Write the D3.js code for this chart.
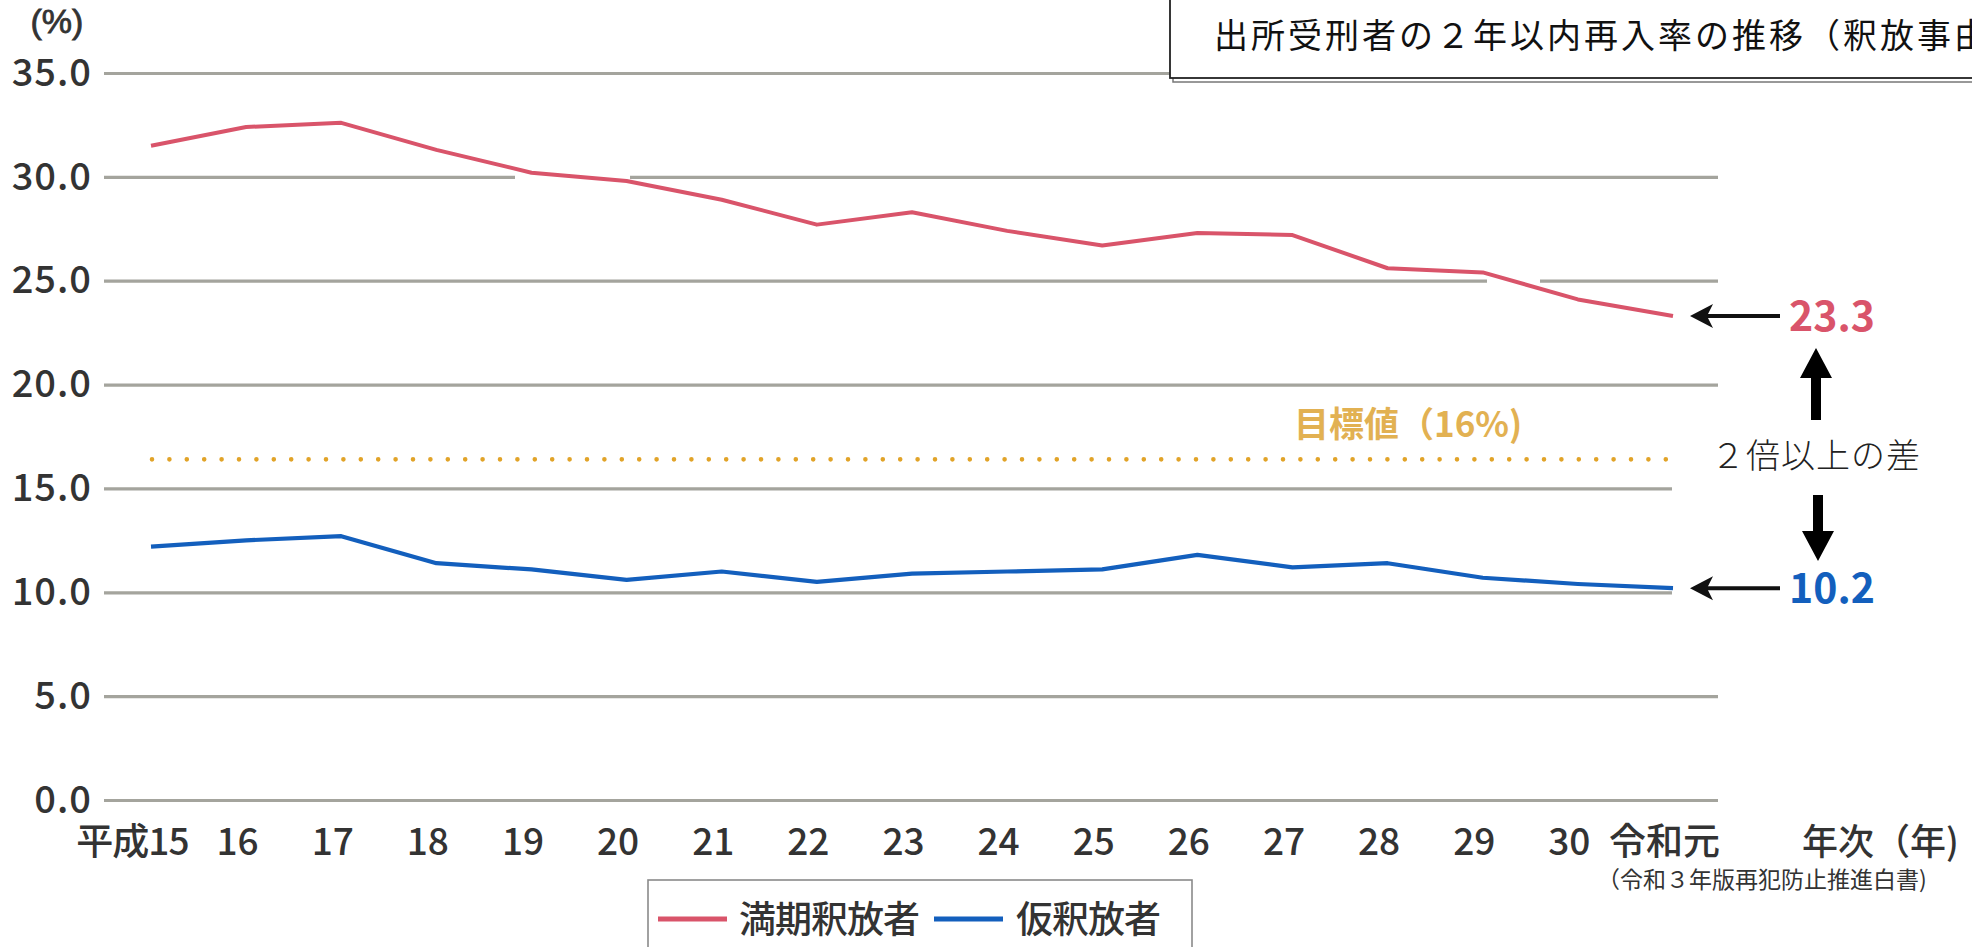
<!DOCTYPE html>
<html><head><meta charset="utf-8">
<script src="https://cdn.jsdelivr.net/npm/d3@7"></script>
<style>
html,body{margin:0;padding:0;background:#fff;}
svg{display:block;}
text{font-family:"Noto Sans CJK JP","Noto Sans",sans-serif;}
</style></head>
<body>
<svg id="chart" width="1972" height="947"></svg>
<script>
// ---- data ----
const categories = ["平成15","16","17","18","19","20","21","22","23","24","25","26","27","28","29","30","令和元"];
const fullTermRelease = [31.5,32.4,32.6,31.3,30.2,29.8,28.9,27.7,28.3,27.4,26.7,27.3,27.2,25.6,25.4,24.1,23.3];
const parole = [12.2,12.5,12.7,11.4,11.1,10.6,11.0,10.5,10.9,11.0,11.1,11.8,11.2,11.4,10.7,10.4,10.2];
const targetValue = 16.4;
const yTicks = [0,5,10,15,20,25,30,35];
const seriesNames = ["満期釈放者","仮釈放者"];
const titleText = "出所受刑者の２年以内再入率の推移（釈放事由別）";
const targetLabel = "目標値（16%)";
const gapLabel = "２倍以上の差";
const sourceText = "（令和３年版再犯防止推進白書)";

// ---- layout ----
const RED = "#d9546a", BLUE = "#135fbd", GOLD = "#e1a328", GOLDTXT = "#e2b152", GRID = "#a4a49d", INK = "#333";
const svg = d3.select("#chart");
const x = d3.scalePoint().domain(categories).range([151, 1673]);
const y = d3.scaleLinear().domain([0, 35]).range([800, 73]);
const gridLeft = 104, gridRight = 1718;

// y axis + gridlines
const yAxis = svg.append("g").attr("transform", `translate(${gridLeft},0)`)
  .call(d3.axisLeft(y).tickValues(yTicks).tickSize(-(gridRight - gridLeft)).tickPadding(12).tickFormat(d3.format(".1f")));
yAxis.select(".domain").remove();
yAxis.selectAll(".tick line").attr("stroke", GRID).attr("stroke-width", 3.2);
yAxis.selectAll(".tick text").attr("fill", INK).style("font-size", "38px").style("font-weight", "500")
  .style("letter-spacing", "1px").attr("dy", "0.32em");

// small white gaps present in the gridlines of the original
svg.append("rect").attr("x", 515).attr("y", y(30) - 5).attr("width", 115).attr("height", 10).attr("fill", "#fff");
svg.append("rect").attr("x", 1487).attr("y", y(25) - 5).attr("width", 53).attr("height", 10).attr("fill", "#fff");
svg.append("rect").attr("x", 1672).attr("y", y(15) - 6).attr("width", 300).attr("height", y(10) - y(15) + 12).attr("fill", "#fff");

// (%) label
svg.append("text").attr("x", 57).attr("y", 33).attr("text-anchor", "middle")
  .attr("fill", INK).attr("stroke", INK).attr("stroke-width", 0.8)
  .style("font-family", "'Liberation Sans', Arial, sans-serif")
  .style("font-size", "34px").text("(%)");

// x axis
const xAxis = svg.append("g").attr("transform", `translate(-9,800)`)
  .call(d3.axisBottom(x).tickSize(0).tickPadding(29));
xAxis.select(".domain").remove();
xAxis.selectAll(".tick text").attr("fill", INK).style("font-size", "37px").style("font-weight", "500");
xAxis.selectAll(".tick text").filter(d => d === categories[0]).attr("text-anchor", "end").attr("x", 46)
  .style("letter-spacing", "-1px");

svg.append("text").attr("x", 1802).attr("y", 855).attr("fill", INK).style("font-size", "36px")
  .style("font-weight", "500").text("年次（年)");

// target dotted line
svg.append("line").attr("x1", x(categories[0]) + 1).attr("x2", 1666)
  .attr("y1", y(targetValue)).attr("y2", y(targetValue))
  .attr("stroke", GOLD).attr("stroke-width", 4.6).attr("stroke-linecap", "round")
  .attr("stroke-dasharray", "0 17.4");
svg.append("text").attr("x", 1294).attr("y", 437).attr("fill", GOLDTXT)
  .style("font-size", "35px").style("font-weight", "bold").text(targetLabel);

// series lines
const line = d3.line().x((d, i) => x(categories[i])).y(d => y(d));
svg.append("path").datum(fullTermRelease).attr("d", line).attr("fill", "none")
  .attr("stroke", RED).attr("stroke-width", 4).attr("stroke-linejoin", "round");
svg.append("path").datum(parole).attr("d", line).attr("fill", "none")
  .attr("stroke", BLUE).attr("stroke-width", 4.2).attr("stroke-linejoin", "round");

// end-value annotations
function leftArrow(ty) {
  const tx = 1690;
  svg.append("line").attr("x1", tx + 14).attr("x2", 1780).attr("y1", ty).attr("y2", ty)
    .attr("stroke", "#111").attr("stroke-width", 4);
  svg.append("path").attr("d", `M${tx},${ty} L${tx + 23},${ty - 12} L${tx + 17},${ty} L${tx + 23},${ty + 12} Z`).attr("fill", "#111");
}
const lastRed = fullTermRelease[fullTermRelease.length - 1];
const lastBlue = parole[parole.length - 1];
leftArrow(y(lastRed));
leftArrow(y(lastBlue));
svg.append("text").attr("x", 1789).attr("y", y(lastRed) + 15).attr("fill", RED)
  .style("font-size", "41px").style("font-weight", "bold").text(d3.format(".1f")(lastRed));
svg.append("text").attr("x", 1789).attr("y", y(lastBlue) + 15).attr("fill", BLUE)
  .style("font-size", "41px").style("font-weight", "bold").text(d3.format(".1f")(lastBlue));

// block arrows
svg.append("path").attr("d", "M1816,348 L1832,378 L1821,378 L1821,420 L1811,420 L1811,378 L1800,378 Z").attr("fill", "#000");
svg.append("path").attr("d", "M1818,561 L1834,531 L1823,531 L1823,495 L1813,495 L1813,531 L1802,531 Z").attr("fill", "#000");
svg.append("text").attr("x", 1711).attr("y", 468).attr("fill", "#222")
  .style("font-size", "34px").style("font-weight", "300").style("letter-spacing", "1px").text(gapLabel);

// title box
svg.append("rect").attr("x", 1173).attr("y", -10).attr("width", 900).attr("height", 92)
  .attr("fill", "none").attr("stroke", "#777").attr("stroke-width", 1.5);
svg.append("rect").attr("x", 1170).attr("y", -10).attr("width", 900).attr("height", 88)
  .attr("fill", "#fff").attr("stroke", "#222").attr("stroke-width", 1.8);
svg.append("text").attr("x", 1214).attr("y", 48).attr("fill", "#111")
  .style("font-size", "34px").style("letter-spacing", "3px").text(titleText);

// legend
const lg = svg.append("g");
lg.append("rect").attr("x", 648).attr("y", 880).attr("width", 544).attr("height", 90)
  .attr("fill", "#fff").attr("stroke", "#8a8a8a").attr("stroke-width", 1.6);
const legendItems = [
  {name: seriesNames[0], color: RED, lx: 658, tx: 739},
  {name: seriesNames[1], color: BLUE, lx: 934, tx: 1016}
];
legendItems.forEach(it => {
  lg.append("line").attr("x1", it.lx).attr("x2", it.lx + 69).attr("y1", 919).attr("y2", 919)
    .attr("stroke", it.color).attr("stroke-width", 5);
  lg.append("text").attr("x", it.tx).attr("y", 933).attr("fill", INK)
    .style("font-size", "37px").style("font-weight", "500").style("letter-spacing", "-1px").text(it.name);
});

// source
svg.append("text").attr("x", 1597).attr("y", 888).attr("fill", INK)
  .style("font-size", "23px").text(sourceText);
</script>
</body></html>
